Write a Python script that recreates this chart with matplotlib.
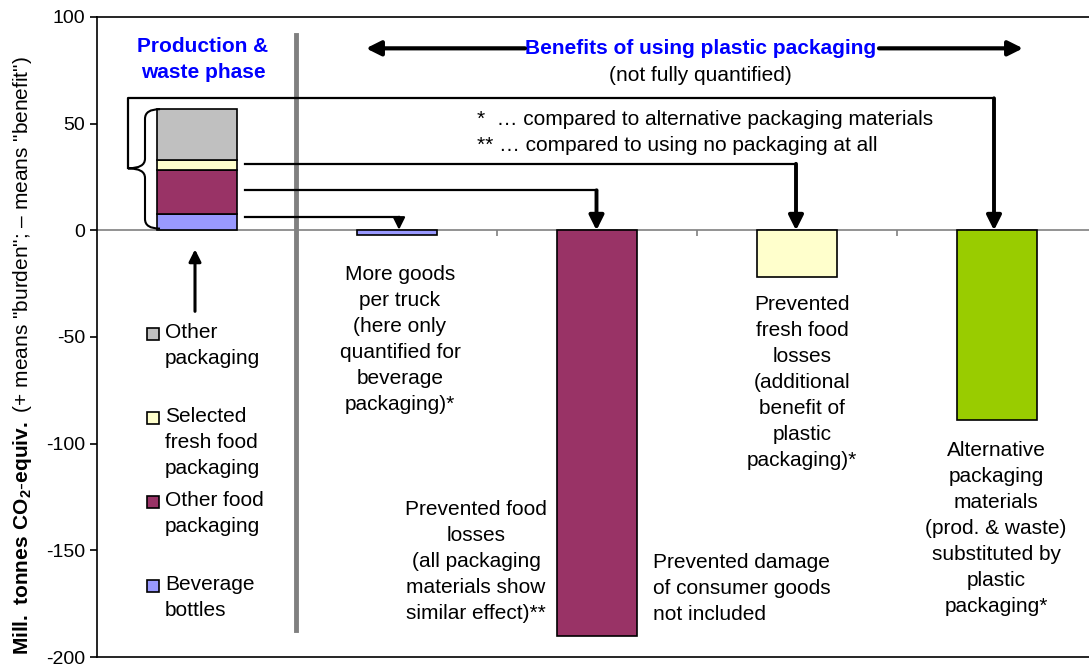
import matplotlib
matplotlib.use('Agg')
import matplotlib.pyplot as plt
import numpy as np
from matplotlib.path import Path
from matplotlib.patches import PathPatch

plt.rcParams['font.family'] = ['Liberation Sans', 'DejaVu Sans']
plt.rcParams['mathtext.fontset'] = 'custom'
plt.rcParams['mathtext.rm'] = 'Liberation Sans'
plt.rcParams['mathtext.bf'] = 'Liberation Sans:bold'
plt.rcParams['axes.unicode_minus'] = False

# stacked bar: production & waste phase (bottom to top)
stack_labels = ['Beverage\nbottles', 'Other food\npackaging',
                'Selected\nfresh food\npackaging', 'Other\npackaging']
stack_values = [7.5, 21.0, 4.5, 24.0]
stack_colors = ['#9999FF', '#993366', '#FFFFCC', '#C0C0C0']

# benefit bars
benefit_values = [-2.2, -190.0, -22.0, -89.0]
benefit_colors = ['#9999FF', '#993366', '#FFFFCC', '#99CC00']
benefit_texts = ['More goods\nper truck\n(here only\nquantified for\nbeverage\npackaging)*',
                 'Prevented food\nlosses\n(all packaging\nmaterials show\nsimilar effect)**',
                 'Prevented\nfresh food\nlosses\n(additional\nbenefit of\nplastic\npackaging)*',
                 'Alternative\npackaging\nmaterials\n(prod. & waste)\nsubstituted by\nplastic\npackaging*']

yticks = [-200, -150, -100, -50, 0, 50, 100]

W, H = 1089, 666
fig = plt.figure(figsize=(W / 100, H / 100), dpi=100)
ax = fig.add_axes([97 / W, 9 / H, 1000 / W, 640 / H])
ax.set_xlim(-0.5, 4.5)
ax.set_ylim(-200, 100)


def X(px):
    return (px - 197) / 200.0


def Y(py):
    return (230 - py) / (640 / 300.0)


fs = 15
ls = 1.46
bw = 0.4

# stacked bar
bottom = 0
for v, c in zip(stack_values, stack_colors):
    ax.bar(0, v, bw, bottom=bottom, color=c, edgecolor='black', lw=1.2, zorder=3)
    bottom += v

# benefit bars
xs = np.arange(1, 5)
ax.bar(xs, benefit_values, bw, color=benefit_colors, edgecolor='black', lw=1.2, zorder=3)

# zero line + category ticks
ax.axhline(0, color='#808080', lw=1.2, zorder=2)
ax.vlines([0.5, 1.5, 2.5, 3.5], -2.8, 0, color='#808080', lw=1.2, zorder=2)

# divider
ax.plot([X(296), X(296)], [Y(35), Y(630)], color='#808080', lw=3.5, zorder=2)

# spines / ticks
ax.spines['right'].set_visible(False)
for s in ['top', 'left', 'bottom']:
    ax.spines[s].set_linewidth(1.2)
ax.set_xticks([])
ax.set_yticks(yticks)
ax.tick_params(axis='y', direction='out', length=5, width=1.2, labelsize=14)

# curly brace
xr, xsp, xt = X(160), X(145), X(128)
top, bot, mid = 56.8, 0.8, Y(168)
r = 4.5
verts = [(xr, top), (xsp, top), (xsp, top - r),
         (xsp, mid + r), (xsp, mid), (xt, mid),
         (xsp, mid), (xsp, mid - r),
         (xsp, bot + r), (xsp, bot), (xr, bot)]
codes = [Path.MOVETO, Path.CURVE3, Path.CURVE3,
         Path.LINETO, Path.CURVE3, Path.CURVE3,
         Path.CURVE3, Path.CURVE3,
         Path.LINETO, Path.CURVE3, Path.CURVE3]
ax.add_patch(PathPatch(Path(verts, codes), fill=False, lw=1.5, color='black', zorder=4))

# connectors to benefit bars
aprops = dict(arrowstyle='-|>', color='black', lw=2.8, mutation_scale=22, shrinkA=0, shrinkB=0)
# bracket to alternative packaging
ax.plot([xt, xt, X(994)], [mid, Y(98), Y(98)], color='black', lw=1.6, zorder=4)
ax.annotate('', xy=(X(994), 0), xytext=(X(994), Y(98)), arrowprops=aprops, zorder=5)
# fresh food
ax.plot([X(245), X(796)], [Y(163.5), Y(163.5)], color='black', lw=1.6, zorder=4)
ax.annotate('', xy=(X(796), 0), xytext=(X(796), Y(163.5)), arrowprops=aprops, zorder=5)
# other food
ax.plot([X(245), X(596.5)], [Y(190), Y(190)], color='black', lw=1.6, zorder=4)
ax.annotate('', xy=(X(596.5), 0), xytext=(X(596.5), Y(190)), arrowprops=aprops, zorder=5)
# beverage
ax.plot([X(245), X(399)], [Y(216.5), Y(216.5)], color='black', lw=1.6, zorder=4)
ax.annotate('', xy=(X(399), 0.3), xytext=(X(399), Y(216.5)),
            arrowprops=dict(arrowstyle='-|>', color='black', lw=1.6, mutation_scale=18,
                            shrinkA=0, shrinkB=0), zorder=5)

# up arrow under stack
ax.annotate('', xy=(X(195), Y(249)), xytext=(X(195), Y(311)),
            arrowprops=dict(arrowstyle='-|>', color='black', lw=2.2, mutation_scale=18,
                            shrinkA=0, shrinkB=0))

# legend entries
leg_tops = [575, 491, 407, 323]
for lab, c, ty in zip(stack_labels, stack_colors, leg_tops):
    ax.plot(X(153), Y(ty + 11), marker='s', ms=8, mfc=c, mec='black', mew=1.2, clip_on=False)
    ax.text(X(165), Y(ty), lab, fontsize=fs, ha='left', va='top', linespacing=ls)

# benefit descriptions
txt_pos = [(400, 265, 'center'), (476, 500, 'center'), (802, 295, 'center'), (996, 441, 'center')]
for t, (px, py, ha) in zip(benefit_texts, txt_pos):
    ax.text(X(px), Y(py), t, fontsize=fs, ha=ha, va='top', multialignment='center', linespacing=ls)
ax.text(X(653), Y(553), 'Prevented damage\nof consumer goods\nnot included', fontsize=fs,
        ha='left', va='top', linespacing=ls)

# headers
ax.text(X(203), Y(59), 'Production &\nwaste phase', fontsize=fs, color='#0000FF', weight='bold',
        ha='center', va='center', linespacing=ls)
ax.text(X(701), Y(48), 'Benefits of using plastic packaging', fontsize=fs, color='#0000FF',
        weight='bold', ha='center', va='center')
ax.text(X(700), Y(75), '(not fully quantified)', fontsize=fs, ha='center', va='center')
hprops = dict(arrowstyle='-|>', color='black', lw=3, mutation_scale=22, shrinkA=0, shrinkB=0)
ax.annotate('', xy=(X(366), Y(48)), xytext=(X(525), Y(48)), arrowprops=hprops)
ax.annotate('', xy=(X(1023), Y(48)), xytext=(X(879), Y(48)), arrowprops=hprops)

# footnotes
ax.text(X(477), Y(119), '*  \u2026 compared to alternative packaging materials', fontsize=fs,
        ha='left', va='center')
ax.text(X(477), Y(145), '** \u2026 compared to using no packaging at all', fontsize=fs,
        ha='left', va='center')

# y label
ylab = (r'$\mathbf{Mill.}$ $\mathbf{tonnes\ CO_2}$' + '-' + r'$\mathbf{equiv.}$'
        + ' (+ means "burden"; \u2013 means "benefit")')
fig.text(23 / W, 1 - 356 / H, ylab, rotation=90, ha='center', va='center', fontsize=15)

fig.savefig('out.png', dpi=100)
